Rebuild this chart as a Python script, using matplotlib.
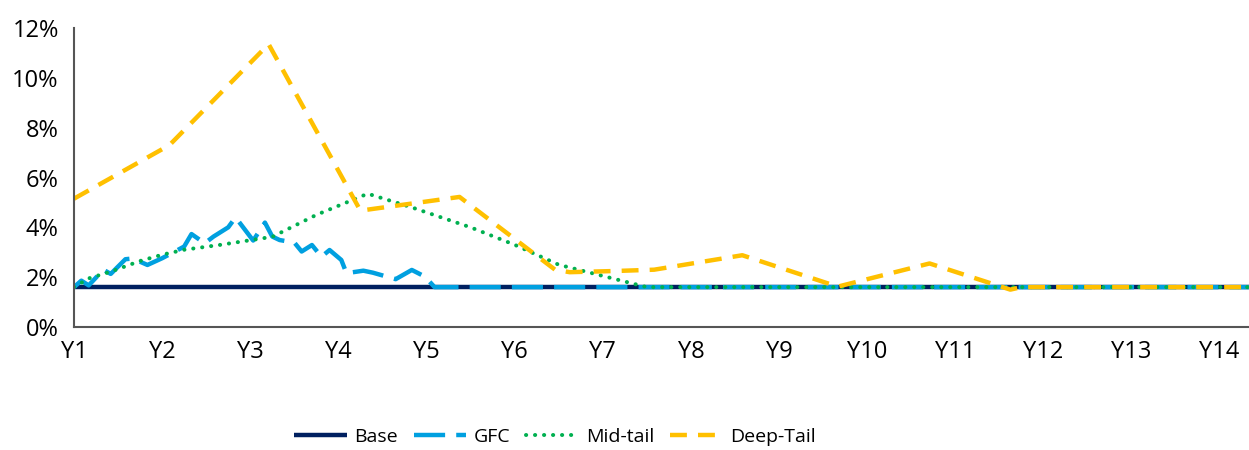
import matplotlib
matplotlib.use("Agg")
from matplotlib import pyplot as plt
from matplotlib.ticker import FuncFormatter

plt.rcParams['font.family'] = ['Open Sans', 'DejaVu Sans']

# x positions are months after Y1
years = ["Y%d" % i for i in range(1, 15)]
year_months = [0, 12, 24, 36, 48, 60, 72, 84, 96, 108, 120, 132, 144, 156]

base_x = [0, 160]
base_y = [1.6, 1.6]

gfc_x = [0, 1, 2, 4, 5, 7, 8, 9, 10, 12, 14, 15, 16, 17.8, 19, 21, 22,
         24.4, 26, 27, 28, 30, 31, 32.4, 33.7, 34.8, 36.4, 37.1, 39.4, 40.7,
         42.6, 43.8, 46, 47.8, 49.1, 160]
gfc_y = [1.6, 1.86, 1.67, 2.3, 2.13, 2.72, 2.75, 2.62, 2.49, 2.76, 3.07, 3.23, 3.73, 3.36, 3.63, 4.0, 4.4,
         3.47, 4.19, 3.63, 3.49, 3.39, 3.03, 3.29, 2.82, 3.09, 2.69, 2.16, 2.26, 2.18,
         2.02, 1.92, 2.29, 2.02, 1.6, 1.6]

mid_x = [0, 2, 5, 9, 12, 15, 20, 27, 33, 40, 46, 54, 60, 66, 72, 78, 160]
mid_y = [1.6, 1.95, 2.22, 2.65, 2.9, 3.1, 3.3, 3.62, 4.5, 5.35, 4.8, 4.0, 3.3, 2.5, 2.05, 1.6, 1.6]

deep_x = [0, 13, 26.5, 39, 52.5, 65.5, 67.5, 74, 79, 91, 104, 116.5, 127.5, 129, 160]
deep_y = [5.15, 7.3, 11.35, 4.67, 5.22, 2.3, 2.2, 2.25, 2.3, 2.88, 1.62, 2.55, 1.5, 1.6, 1.6]

fig = plt.figure(figsize=(12.49, 4.5), dpi=100)
ax = fig.add_axes([74 / 1249, 123 / 450, 1 - 74 / 1249, 299 / 450])

lw = 3.2
ax.plot(base_x, base_y, color="#002060", lw=lw, label="Base", solid_capstyle="butt")
ax.plot(gfc_x, gfc_y, color="#00A0E0", lw=lw, label="GFC", dashes=(7, 2.5), dash_capstyle="butt")
ax.plot(mid_x, mid_y, color="#00B050", lw=lw * 0.9, label="Mid-tail", dashes=(0.05, 2.2), dash_capstyle="round")
ax.plot(deep_x, deep_y, color="#FFC000", lw=lw, label="Deep-Tail", dashes=(3.8, 2.5), dash_capstyle="butt")

ax.set_xlim(0, 160)
ax.set_ylim(0, 12)
ax.set_yticks([0, 2, 4, 6, 8, 10, 12])
ax.yaxis.set_major_formatter(FuncFormatter(lambda v, p: "%d%%" % v))
ax.set_xticks(year_months)
ax.set_xticklabels(years)
ax.tick_params(axis="both", length=0, labelsize=17, colors="black")
ax.tick_params(axis="x", pad=9)
ax.tick_params(axis="y", pad=11)
for s in ["top", "right"]:
    ax.spines[s].set_visible(False)
for s in ["left", "bottom"]:
    ax.spines[s].set_color("#555555")
    ax.spines[s].set_linewidth(1.5)

fig.legend(loc="center", bbox_to_anchor=(555 / 1249, 1 - 437 / 450), ncol=4, frameon=False,
           fontsize=14, handlelength=2.7, columnspacing=0.8, handletextpad=0.4, borderpad=0)

fig.savefig("out.png", dpi=100)
